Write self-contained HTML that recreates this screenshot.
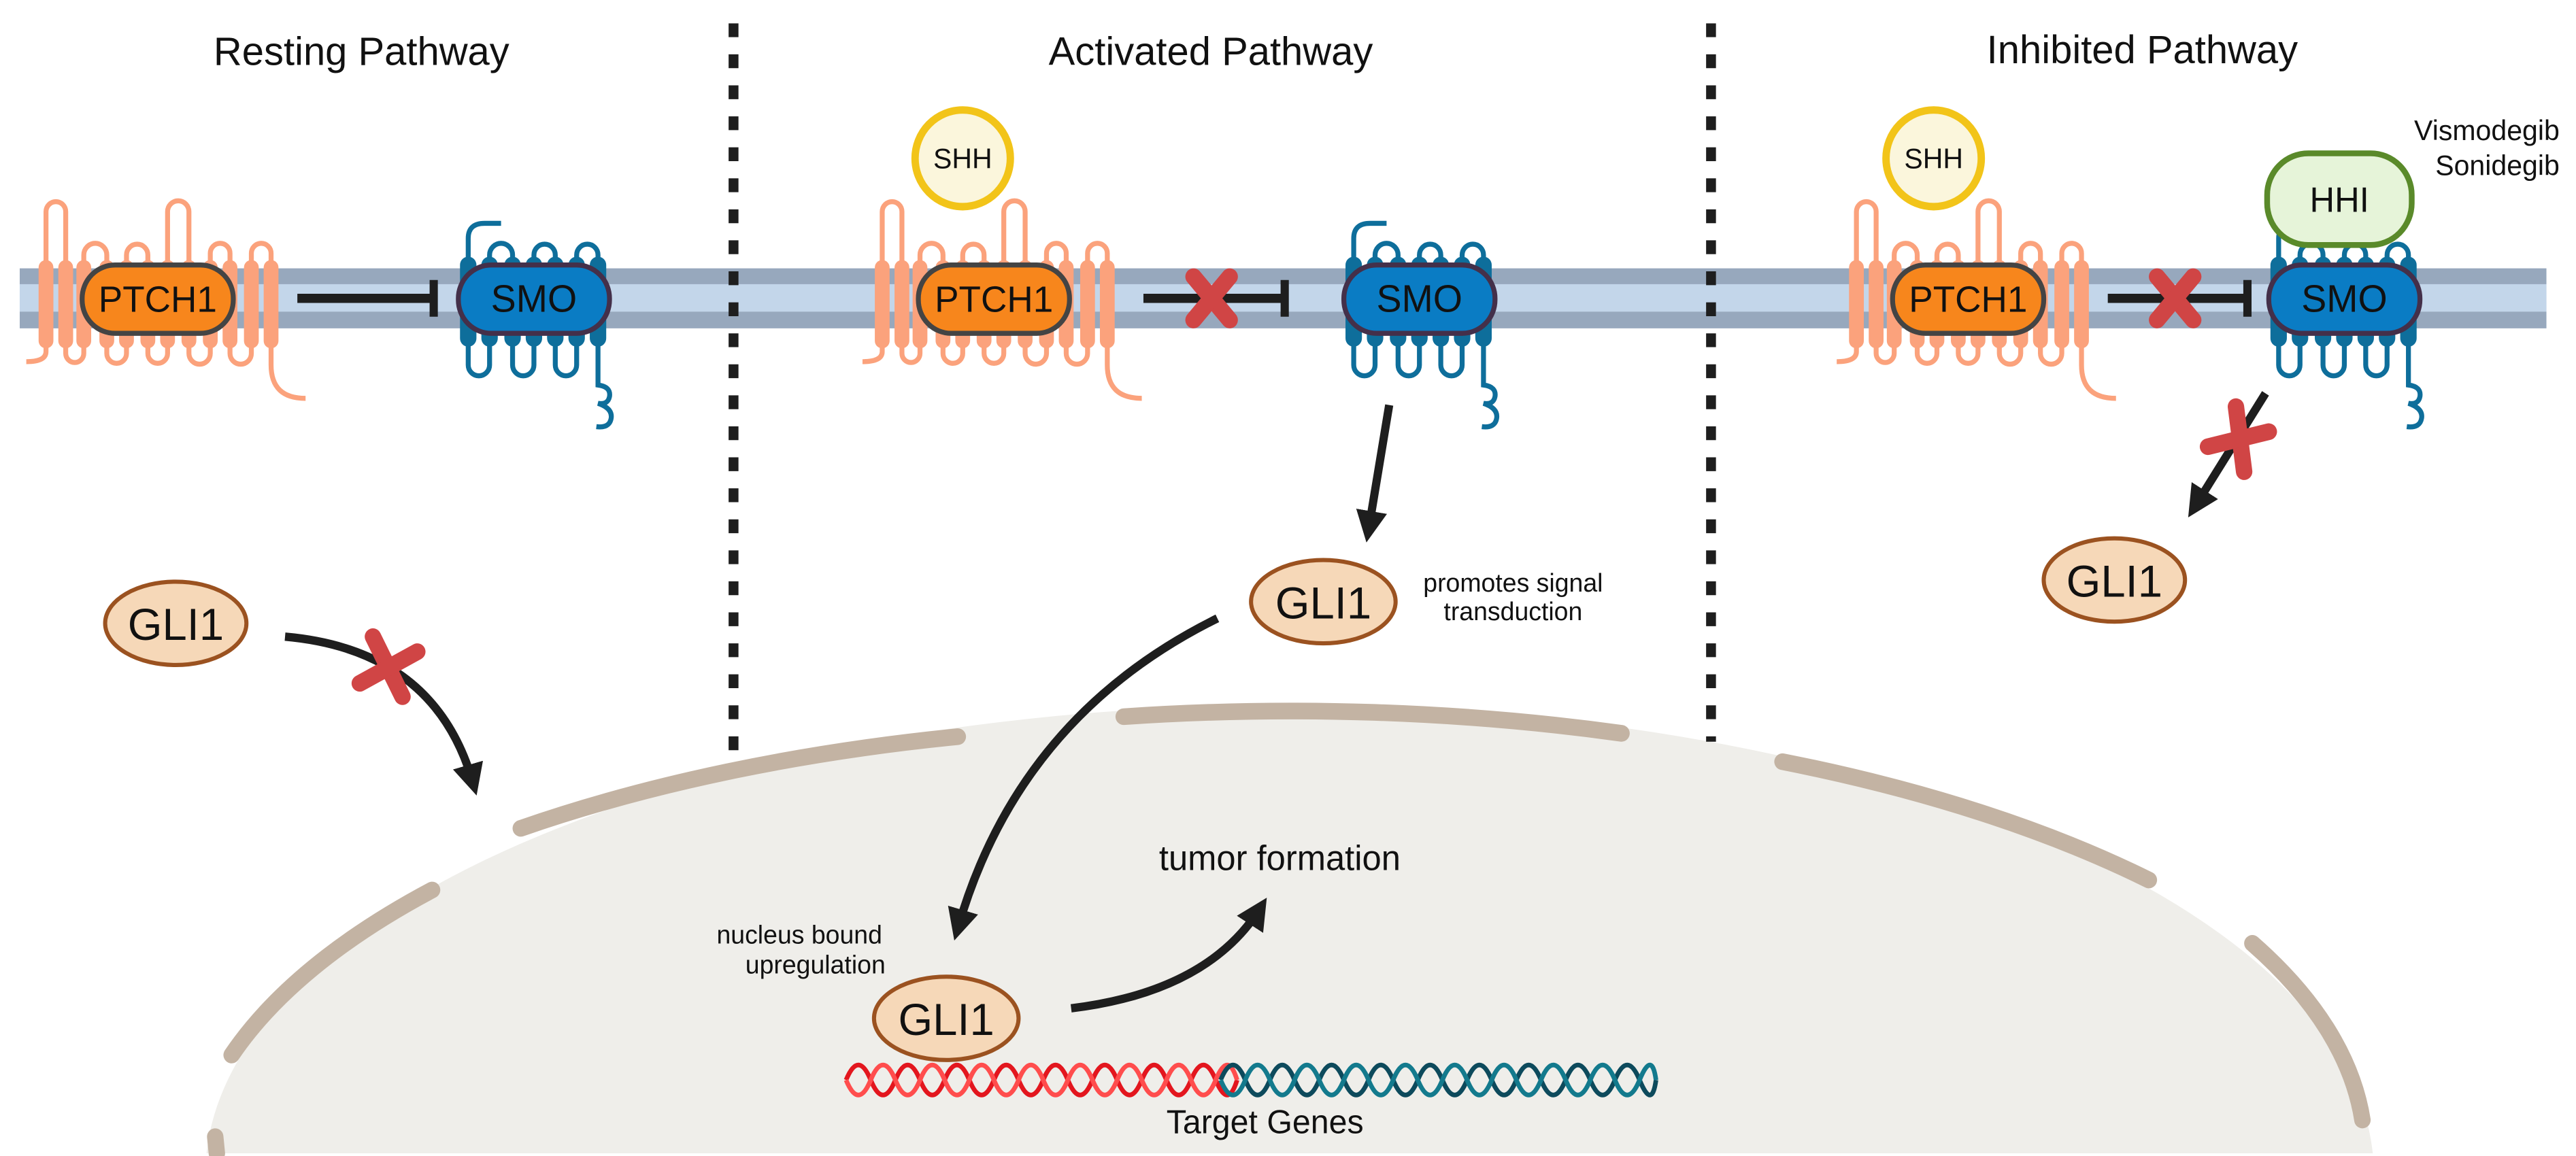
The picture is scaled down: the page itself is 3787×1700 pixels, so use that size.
<!DOCTYPE html>
<html><head><meta charset="utf-8"><style>
html,body{margin:0;padding:0;background:#fff;overflow:hidden;width:3787px;height:1700px;}
svg{display:block;}
text{font-family:"Liberation Sans",sans-serif;fill:#111;}
</style></head><body>
<svg width="3787" height="1700" viewBox="0 0 1568 704" preserveAspectRatio="none" xmlns="http://www.w3.org/2000/svg">
<defs>
<marker id="ah" viewBox="0 0 10 10" markerWidth="3.8" markerHeight="3.8" refX="6" refY="5" orient="auto" markerUnits="strokeWidth"><path d="M0,0 L10,5 L0,10 Z" fill="#1e1e1e"/></marker>
<g id="ptch">
<g fill="none" stroke="#fba27c" stroke-width="3">
<path d="M-68 -20 V-52 A6 6 0 0 1 -56 -52 V-20"/>
<path d="M6 -20 V-52 A6.5 6.5 0 0 1 19 -52 V-20"/>
<path d="M-45 -20 V-26 A7 7 0 0 1 -31 -26 V-20"/>
<path d="M-19 -20 V-26 A6.5 6.5 0 0 1 -6 -26 V-20"/>
<path d="M32 -20 V-27 A6 6 0 0 1 44 -27 V-20"/>
<path d="M57 -20 V-27 A6 6 0 0 1 69 -27 V-20"/>
<path d="M-56 28 V33 A5.5 5.5 0 0 0 -45 33 V28"/>
<path d="M-31 28 V33 A6 6 0 0 0 -19 33 V28"/>
<path d="M-6 28 V33 A6 6 0 0 0 6 33 V28"/>
<path d="M19 28 V33 A6.5 6.5 0 0 0 32 33 V28"/>
<path d="M44 28 V33 A6.5 6.5 0 0 0 57 33 V28"/>
<path d="M-68 28 V32 Q-68 38 -80 38"/>
<path d="M69 28 V40 Q69 60 90 60"/>
</g>
<g fill="#fba27c">
<rect x="-72.5" y="-23" width="9" height="53" rx="4.5"/><rect x="-60.5" y="-23" width="9" height="53" rx="4.5"/>
<rect x="-49.5" y="-23" width="9" height="53" rx="4.5"/><rect x="-35.5" y="-23" width="9" height="53" rx="4.5"/>
<rect x="-23.5" y="-23" width="9" height="53" rx="4.5"/><rect x="-10.5" y="-23" width="9" height="53" rx="4.5"/>
<rect x="1.5" y="-23" width="9" height="53" rx="4.5"/><rect x="14.5" y="-23" width="9" height="53" rx="4.5"/>
<rect x="27.5" y="-23" width="9" height="53" rx="4.5"/><rect x="39.5" y="-23" width="9" height="53" rx="4.5"/>
<rect x="52.5" y="-23" width="9" height="53" rx="4.5"/><rect x="64.5" y="-23" width="9" height="53" rx="4.5"/>
</g>
<rect x="-46" y="-20" width="92" height="41" rx="20" fill="#f7861c" stroke="#444" stroke-width="3"/>
</g>
<g id="smo">
<g fill="none" stroke="#0e6e9b" stroke-width="3">
<path d="M-40 -22 V-36 Q-40 -45 -30 -45 H-20"/>
<path d="M-27 -22 V-26 A7 7 0 0 1 -13 -26 V-22"/>
<path d="M0 -22 V-26 A6.5 6.5 0 0 1 13 -26 V-22"/>
<path d="M26 -22 V-26 A6.5 6.5 0 0 1 39 -26 V-22"/>
<path d="M-40 28 V40 A6.5 6.5 0 0 0 -27 40 V28"/>
<path d="M-13 28 V40 A6.5 6.5 0 0 0 0 40 V28"/>
<path d="M13 28 V40 A6.5 6.5 0 0 0 26 40 V28"/>
<path d="M39 28 V52 Q47 53 46 59 Q45 64 39 63 Q48 66 47 72 Q46 78 38 77"/>
</g>
<g fill="#0e6e9b">
<rect x="-45" y="-25" width="10" height="54" rx="5"/><rect x="-32" y="-25" width="10" height="54" rx="5"/>
<rect x="-18" y="-25" width="10" height="54" rx="5"/><rect x="-5" y="-25" width="10" height="54" rx="5"/>
<rect x="8" y="-25" width="10" height="54" rx="5"/><rect x="21" y="-25" width="10" height="54" rx="5"/>
<rect x="34" y="-25" width="10" height="54" rx="5"/>
</g>
<rect x="-46" y="-20" width="92" height="41" rx="20" fill="#0a7cc4" stroke="#44304a" stroke-width="3"/>
</g>
<g id="xx" stroke="#d04545" stroke-width="10" stroke-linecap="round"><line x1="-11" y1="-13" x2="11" y2="13"/><line x1="11" y1="-13" x2="-11" y2="13"/></g>
</defs>

<g transform="scale(1,1.015)">
<!-- nucleus -->
<ellipse cx="785" cy="705" rx="660" ry="282" fill="#efeeea"/>
<rect x="0" y="692" width="1568" height="30" fill="#fff"/>
<g fill="none" stroke="#c3b3a3" stroke-width="10" stroke-linecap="round">
<line x1="131" y1="682" x2="132" y2="692"/>
<path d="M141 633 A660 282 0 0 1 263 534"/>
<path d="M317 497 A660 282 0 0 1 583 442"/>
<path d="M684 430 A660 282 0 0 1 987 440"/>
<path d="M1085 457 A660 282 0 0 1 1308 528"/>
<path d="M1371 566 A660 282 0 0 1 1438 672"/>
</g>

<!-- membrane -->
<rect x="12" y="161" width="1538" height="36" fill="#97a8bd"/>
<rect x="12" y="170.5" width="1538" height="16.5" fill="#c3d6ea"/>

<!-- dashed dividers -->
<line x1="446.5" y1="14" x2="446.5" y2="460" stroke="#1e1e1e" stroke-width="6" stroke-dasharray="8.3 10.3"/>
<line x1="1041.5" y1="14" x2="1041.5" y2="445" stroke="#1e1e1e" stroke-width="6" stroke-dasharray="8.3 10.3"/>

<!-- titles -->
<text x="220" y="39" font-size="24" text-anchor="middle">Resting Pathway</text>
<text x="737" y="39" font-size="24" text-anchor="middle">Activated Pathway</text>
<text x="1304" y="38" font-size="24" text-anchor="middle">Inhibited Pathway</text>

<!-- Resting -->
<use href="#ptch" x="96" y="179"/>
<text x="96" y="187" font-size="22" text-anchor="middle">PTCH1</text>
<line x1="181" y1="179" x2="262" y2="179" stroke="#1e1e1e" stroke-width="5.5"/>
<line x1="264" y1="168" x2="264" y2="190" stroke="#1e1e1e" stroke-width="5"/>
<use href="#smo" x="325" y="179"/>
<text x="325" y="187" font-size="23" text-anchor="middle">SMO</text>

<ellipse cx="107" cy="374" rx="43" ry="25" fill="#f6d8b8" stroke="#9b5220" stroke-width="2.5"/>
<text x="107" y="384" font-size="27" text-anchor="middle">GLI1</text>
<path d="M173.5 382 Q265 390 288 470" fill="none" stroke="#1e1e1e" stroke-width="5" marker-end="url(#ah)"/>
<g stroke="#d04545" stroke-width="10" stroke-linecap="round"><line x1="227" y1="382" x2="245" y2="418"/><line x1="219" y1="410" x2="254" y2="391"/></g>

<!-- Activated -->
<circle cx="586" cy="95" r="29" fill="#fbf6dc" stroke="#f2c419" stroke-width="4.5"/>
<text x="586" y="101" font-size="17" text-anchor="middle">SHH</text>
<use href="#ptch" x="605" y="179"/>
<text x="605" y="187" font-size="22" text-anchor="middle">PTCH1</text>
<line x1="696" y1="179" x2="780" y2="179" stroke="#1e1e1e" stroke-width="5.5"/>
<line x1="782" y1="168" x2="782" y2="190" stroke="#1e1e1e" stroke-width="5"/>
<use href="#xx" x="737.5" y="179"/>
<use href="#smo" x="864" y="179"/>
<text x="864" y="187" font-size="23" text-anchor="middle">SMO</text>
<line x1="845.6" y1="243" x2="833" y2="318" stroke="#1e1e1e" stroke-width="5" marker-end="url(#ah)"/>
<ellipse cx="805.5" cy="361" rx="44" ry="25" fill="#f6d8b8" stroke="#9b5220" stroke-width="2.5"/>
<text x="805.5" y="371" font-size="27" text-anchor="middle">GLI1</text>
<text x="921" y="355" font-size="15.5" text-anchor="middle">promotes signal</text>
<text x="921" y="372" font-size="15.5" text-anchor="middle">transduction</text>
<path d="M741 371 Q620 430 583 557" fill="none" stroke="#1e1e1e" stroke-width="5" marker-end="url(#ah)"/>
<text x="537" y="566" font-size="15.5" text-anchor="end">nucleus bound</text>
<text x="539" y="584" font-size="15.5" text-anchor="end">upregulation</text>
<ellipse cx="576" cy="611" rx="44" ry="25" fill="#f6d8b8" stroke="#9b5220" stroke-width="2.5"/>
<text x="576" y="621" font-size="27" text-anchor="middle">GLI1</text>
<path d="M652 605 Q735 595 767 545" fill="none" stroke="#1e1e1e" stroke-width="5" marker-end="url(#ah)"/>
<text x="779" y="522" font-size="21" text-anchor="middle">tumor formation</text>

<!-- DNA -->
<g fill="none" stroke-width="2.8">
<path d="M515 648 q7.5 -18 15 0 t15 0 t15 0 t15 0 t15 0 t15 0 t15 0 t15 0 t15 0 t15 0 t15 0 t15 0 t15 0 t15 0 t15 0 t13 0" stroke="#e3161e"/>
<path d="M515 648 q7.5 18 15 0 t15 0 t15 0 t15 0 t15 0 t15 0 t15 0 t15 0 t15 0 t15 0 t15 0 t15 0 t15 0 t15 0 t15 0 t13 0" stroke="#ff4d4d"/>
<path d="M743 648 q7.5 -18 15 0 t15 0 t15 0 t15 0 t15 0 t15 0 t15 0 t15 0 t15 0 t15 0 t15 0 t15 0 t15 0 t15 0 t15 0 t15 0 t15 0 t10 0" stroke="#0d4a5c"/>
<path d="M743 648 q7.5 18 15 0 t15 0 t15 0 t15 0 t15 0 t15 0 t15 0 t15 0 t15 0 t15 0 t15 0 t15 0 t15 0 t15 0 t15 0 t15 0 t15 0 t10 0" stroke="#137a8d"/>
</g>
<text x="770" y="680" font-size="20" text-anchor="middle">Target Genes</text>

<!-- Inhibited -->
<circle cx="1177" cy="95" r="29" fill="#fbf6dc" stroke="#f2c419" stroke-width="4.5"/>
<text x="1177" y="101" font-size="17" text-anchor="middle">SHH</text>
<use href="#ptch" x="1198" y="179"/>
<text x="1198" y="187" font-size="22" text-anchor="middle">PTCH1</text>
<line x1="1283" y1="179" x2="1366" y2="179" stroke="#1e1e1e" stroke-width="5.5"/>
<line x1="1368" y1="168" x2="1368" y2="190" stroke="#1e1e1e" stroke-width="5"/>
<use href="#xx" x="1324" y="179"/>
<use href="#smo" x="1427" y="179"/>
<text x="1427" y="187" font-size="23" text-anchor="middle">SMO</text>
<rect x="1380" y="92" width="88" height="55" rx="25" fill="#e6f4d9" stroke="#5a8a2a" stroke-width="3.5"/>
<text x="1424" y="127" font-size="21" text-anchor="middle">HHI</text>
<text x="1558" y="84" font-size="17" text-anchor="end">Vismodegib</text>
<text x="1558" y="105" font-size="17" text-anchor="end">Sonidegib</text>
<line x1="1379" y1="236" x2="1336" y2="304" stroke="#1e1e1e" stroke-width="5" marker-end="url(#ah)"/>
<g stroke="#d04545" stroke-width="10" stroke-linecap="round"><line x1="1361" y1="244" x2="1366" y2="283"/><line x1="1344" y1="268" x2="1381" y2="259"/></g>
<ellipse cx="1287" cy="348" rx="43" ry="25" fill="#f6d8b8" stroke="#9b5220" stroke-width="2.5"/>
<text x="1287" y="358" font-size="27" text-anchor="middle">GLI1</text>
</g>
</svg>
</body></html>
